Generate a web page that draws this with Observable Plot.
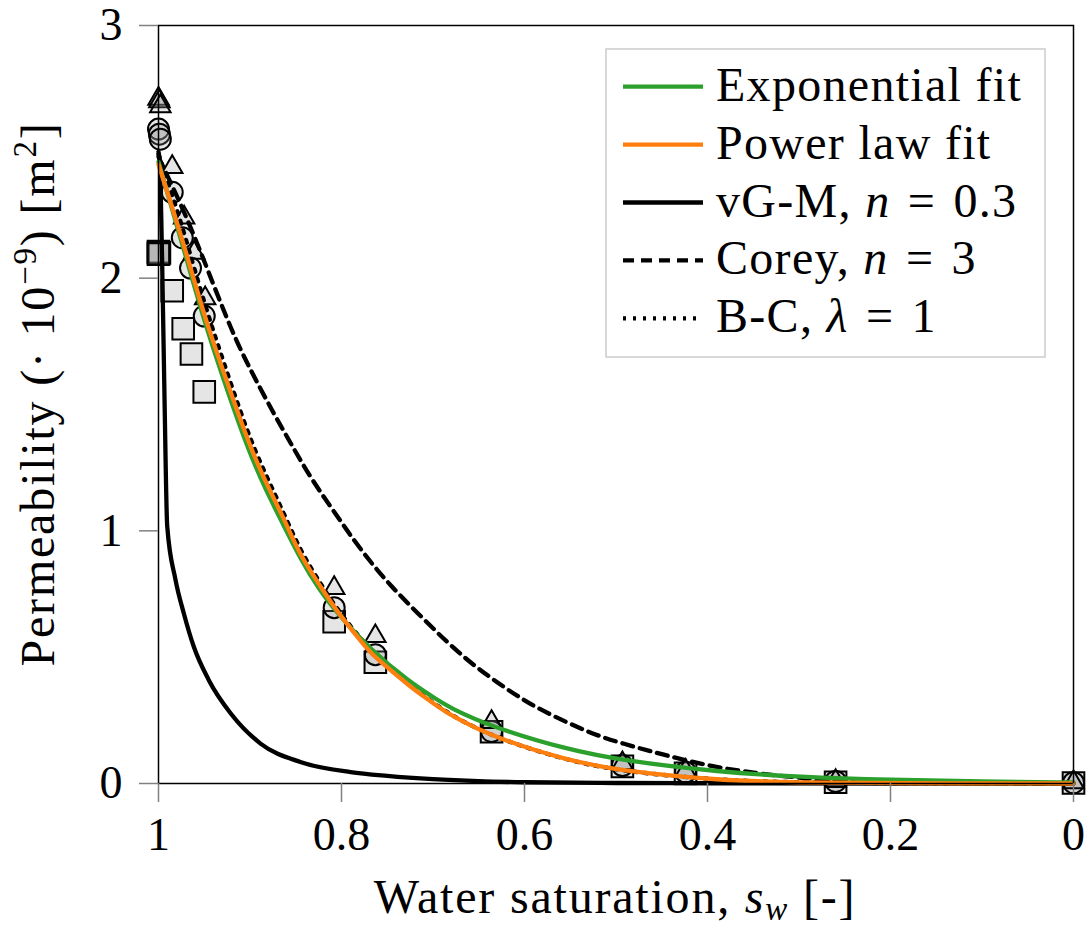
<!DOCTYPE html>
<html><head><meta charset="utf-8">
<script src="https://cdn.jsdelivr.net/npm/d3@7"></script>
<script src="https://cdn.jsdelivr.net/npm/@observablehq/plot@0.6"></script>
<style>
body{margin:0;background:#fff;}
#chart{position:relative;width:1087px;height:928px;}
</style>
</head><body><div id="chart"></div>
<script>
// ---- axis ticks ----
const xTicks = [1, 0.8, 0.6, 0.4, 0.2, 0];
const xTickLabels = ["1", "0.8", "0.6", "0.4", "0.2", "0"];
const yTicks = [0, 1, 2, 3];

// ---- curves: [water saturation, permeability (1e-9 m^2)] ----
const expFit = [[1.0,2.46],[0.985,2.27],[0.972,2.11],[0.95,1.83],[0.93,1.61],[0.903,1.33],[0.884,1.17],[0.863,1.02],[0.845,0.89],[0.825,0.77],[0.805,0.675],[0.768,0.528],[0.725,0.40],[0.699,0.34],[0.681,0.298],[0.635,0.223],[0.553,0.134],[0.493,0.091],[0.386,0.045],[0.3,0.026],[0.2,0.014],[0.1,0.008],[0,0.004]];
const powerFit = [[1.0,2.45],[0.985,2.28],[0.972,2.13],[0.95,1.85],[0.93,1.64],[0.903,1.36],[0.884,1.20],[0.863,1.05],[0.845,0.90],[0.821,0.77],[0.805,0.68],[0.768,0.515],[0.763,0.50],[0.725,0.382],[0.699,0.316],[0.681,0.27],[0.635,0.184],[0.553,0.091],[0.493,0.049],[0.386,0.012],[0.3,0.004],[0.2,0.001],[0,0]];
const vgm = [[1.0,2.5],[0.9986,2.46],[0.996,2.06],[0.9934,1.52],[0.9905,1.02],[0.9814,0.806],[0.9723,0.673],[0.9614,0.541],[0.945,0.409],[0.921,0.277],[0.8885,0.158],[0.845,0.085],[0.79,0.045],[0.75,0.03],[0.7,0.017],[0.65,0.009],[0.6,0.005],[0.5,0.002],[0.4,0.001],[0.2,0],[0,0]];
const corey = [[1.0,2.48],[0.97,2.25],[0.947,2.04],[0.92,1.79],[0.9,1.64],[0.875,1.47],[0.856,1.35],[0.834,1.21],[0.805,1.06],[0.79,0.98],[0.768,0.875],[0.747,0.785],[0.717,0.675],[0.685,0.56],[0.655,0.465],[0.62,0.375],[0.59,0.305],[0.55,0.235],[0.517,0.184],[0.48,0.145],[0.444,0.11],[0.397,0.068],[0.35,0.042],[0.3,0.022],[0.25,0.01],[0.2,0.004],[0.1,0],[0,0]];
const brooksCorey = [[1.0,2.49],[0.985,2.33],[0.972,2.18],[0.95,1.90],[0.93,1.68],[0.903,1.39],[0.884,1.23],[0.863,1.07],[0.845,0.92],[0.821,0.78],[0.805,0.69],[0.768,0.52],[0.725,0.385],[0.699,0.318],[0.681,0.272],[0.635,0.184],[0.553,0.09],[0.493,0.048],[0.386,0.012],[0.3,0.004],[0.2,0.001],[0,0]];

// ---- measured points ----
const triangles = [[1,2.71],[0.999,2.70],[0.998,2.68],[0.985,2.44],[0.972,2.24],[0.961,2.10],[0.949,1.92],[0.808,0.773],[0.763,0.583],[0.636,0.243],[0.493,0.08],[0.424,0.05],[0.26,0.01],[0,0.005]];
const circles = [[1,2.59],[0.999,2.57],[0.998,2.55],[0.985,2.34],[0.974,2.16],[0.965,2.04],[0.95,1.85],[0.808,0.696],[0.763,0.51],[0.636,0.206],[0.493,0.071],[0.424,0.045],[0.26,0.008],[0,0.003]];
const squares = [[1,2.105],[1,2.1],[0.999,2.1],[1,2.095],[0.985,1.95],[0.973,1.80],[0.964,1.70],[0.95,1.55],[0.808,0.64],[0.763,0.48],[0.636,0.205],[0.493,0.068],[0.424,0.04],[0.26,0.005],[0,0.002]];

// ---- legend labels (segments: [text, italic]) ----
const legendLabels = [
  [["Exponential fit", false]],
  [["Power law fit", false]],
  [["vG-M, ", false], ["n", true], ["\u2004=\u20040.3", false]],
  [["Corey, ", false], ["n", true], ["\u2004=\u20043", false]],
  [["B-C, ", false], ["λ", true], ["\u2004=\u20041", false]]
];

const rows = a => a.map(([sw, k]) => ({sw, k}));
const FONT = "'Liberation Serif', 'Times New Roman', serif";
const GREEN = "#2ca02c", ORANGE = "#ff7f0e";
const LW = 4.3;
const lineStyles = [
  {stroke: GREEN, dash: null},
  {stroke: ORANGE, dash: null},
  {stroke: "black", dash: null},
  {stroke: "black", dash: "11,7"},
  {stroke: "black", dash: "3,7"}
];
const dotStyle = {fill: "#999", fillOpacity: 0.25, stroke: "black", strokeWidth: 2};

const plot = Plot.plot({
  width: 1087, height: 928,
  marginLeft: 158, marginRight: 14, marginTop: 25, marginBottom: 145,
  style: {fontFamily: FONT, fontSize: "46px", color: "black", background: "white"},
  x: {domain: [1, 0]},
  y: {domain: [0, 3]},
  marks: [
    Plot.dot(rows(squares), {x: "sw", y: "k", symbol: "square", r: 12.2, ...dotStyle}),
    Plot.dot(rows(circles), {x: "sw", y: "k", symbol: "circle", r: 10.5, ...dotStyle}),
    Plot.dot(rows(triangles), {x: "sw", y: "k", symbol: "triangle", r: 7.6, ...dotStyle}),
    Plot.line(rows(vgm), {x: "sw", y: "k", curve: "monotone-x", stroke: "black", strokeWidth: LW}),
    Plot.line(rows(corey), {x: "sw", y: "k", curve: "basis", stroke: "black", strokeWidth: LW, strokeDasharray: lineStyles[3].dash}),
    Plot.line(rows(brooksCorey), {x: "sw", y: "k", curve: "basis", stroke: "black", strokeWidth: LW, strokeDasharray: lineStyles[4].dash}),
    Plot.line(rows(expFit), {x: "sw", y: "k", curve: "basis", stroke: GREEN, strokeWidth: LW}),
    Plot.line(rows(powerFit), {x: "sw", y: "k", curve: "basis", stroke: ORANGE, strokeWidth: LW}),
    Plot.frame({stroke: "black", strokeWidth: 1.5}),
    Plot.axisX({ticks: xTicks, tickFormat: (d) => xTickLabels[xTicks.indexOf(d)], tickSize: 19, tickPadding: 15, stroke: "#808080", strokeWidth: 1.5, fill: "black", label: null}),
    Plot.axisY({ticks: yTicks, tickFormat: d => String(d), tickSize: 19, tickPadding: 17, stroke: "#808080", strokeWidth: 1.5, fill: "black", label: null})
  ]
});
document.getElementById("chart").appendChild(plot);

const svg = d3.select(plot);

// x axis title
const xt = svg.append("text").attr("x", 615).attr("y", 913).attr("text-anchor", "middle")
  .attr("font-family", FONT).attr("font-size", 48).attr("letter-spacing", "1.8px").attr("fill", "black");
xt.append("tspan").text("Water saturation, ");
xt.append("tspan").attr("font-style", "italic").text("s");
xt.append("tspan").attr("font-style", "italic").attr("font-size", 33).attr("dy", 7).text("w");
xt.append("tspan").attr("dy", -7).text(" [-]");

// y axis title
const yt = svg.append("text").attr("transform", "translate(54,394) rotate(-90)").attr("text-anchor", "middle")
  .attr("font-family", FONT).attr("font-size", 48).attr("letter-spacing", "1.8px").attr("fill", "black");
yt.append("tspan").text("Permeability (· 10");
yt.append("tspan").attr("font-size", 33).attr("dy", -18).text("−9");
yt.append("tspan").attr("dy", 18).text(") [m");
yt.append("tspan").attr("font-size", 33).attr("dy", -18).text("2");
yt.append("tspan").attr("dy", 18).text("]");

// legend
const lg = svg.append("g");
lg.append("rect").attr("x", 606).attr("y", 49).attr("width", 439).attr("height", 308)
  .attr("fill", "white").attr("stroke", "#cccccc").attr("stroke-width", 1.5);
legendLabels.forEach((segs, i) => {
  const cy = 86.7 + i * 57.9;
  const st = lineStyles[i];
  lg.append("line").attr("x1", 623).attr("x2", 703).attr("y1", cy).attr("y2", cy)
    .attr("stroke", st.stroke).attr("stroke-width", LW).attr("stroke-dasharray", st.dash);
  const t = lg.append("text").attr("x", 716).attr("y", cy + 14).attr("text-anchor", "start")
    .attr("font-family", FONT).attr("font-size", 48).attr("letter-spacing", "1.3px").attr("fill", "black");
  segs.forEach(([s, it]) => {
    const ts = t.append("tspan").text(s);
    if (it) ts.attr("font-style", "italic");
  });
});
</script>
</body></html>
